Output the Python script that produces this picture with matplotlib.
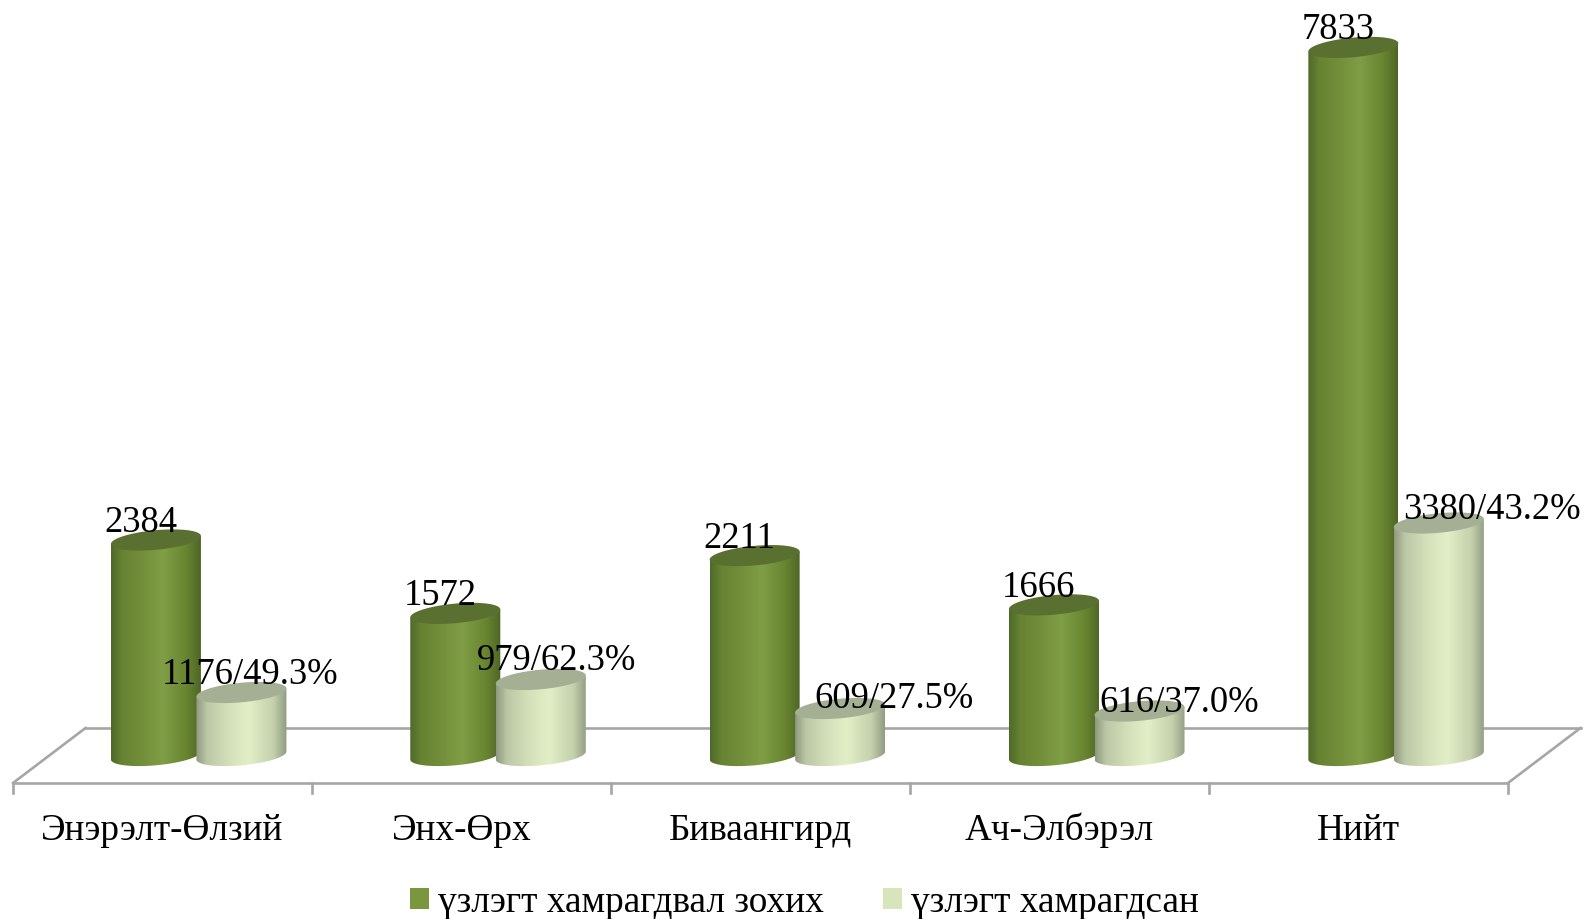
import numpy as np
import matplotlib
matplotlib.use("Agg")
import matplotlib.pyplot as plt
from matplotlib.colors import LinearSegmentedColormap
from matplotlib.patches import Patch, Polygon

plt.rcParams['font.family'] = ['Liberation Serif', 'DejaVu Serif']

categories = ['Энэрэлт-Өлзий', 'Энх-Өрх', 'Биваангирд', 'Ач-Элбэрэл', 'Нийт']
series_names = ['үзлэгт хамрагдвал зохих', 'үзлэгт хамрагдсан']
required = [2384, 1572, 2211, 1666, 7833]
# Heights of the pale bars as drawn in the picture (they do not follow their labels' scale)
covered_drawn = [697, 841, 520, 492, 2572]
covered_labels = ['1176/49.3%', '979/62.3%', '609/27.5%', '616/37.0%', '3380/43.2%']

# Layout
W, H = 1585, 919
PX_PER_CAT = 299.0
PX_PER_VAL = 0.0904
X0_PX, Y0_PX = 162.5, 755.5
FS_DATA = 26.4
FS_TEXT = 26.8
bar_half_px, tilt_px, minor_px = 45.0, 4.0, 9.8
bar_step = 1.0012
dark_off, light_off = -0.022, 0.264
dark_lab_off = (-15, 8)
light_lab_off = [(8.5, 8), (15.5, 9), (53.5, 0), (39.5, -0.5), (53, 3.5)]

dark_cmap = LinearSegmentedColormap.from_list('d', [(0, '#4e6a28'), (0.12, '#668232'), (0.35, '#748f3b'),
                                                    (0.58, '#7f9e45'), (0.85, '#67832f'), (1, '#4d6626')])
light_cmap = LinearSegmentedColormap.from_list('l', [(0, '#8e9980'), (0.12, '#bcc7a5'), (0.35, '#d3dfb9'),
                                                     (0.58, '#e2efc6'), (0.85, '#c5d0ad'), (1, '#919b82')])
DARK, LIGHT = '#7a963f', '#d8e4bc'
DARK_TOP, LIGHT_TOP = '#5a7030', '#a5af93'
GRID = '#a6a6a6'

fig = plt.figure(figsize=(W / 100, H / 100), dpi=100)
ax = fig.add_axes([0, 0, 1, 1])
ax.set_axis_off()
xlim = (-X0_PX / PX_PER_CAT, (W - X0_PX) / PX_PER_CAT)
ylim = ((Y0_PX - H) / PX_PER_VAL, Y0_PX / PX_PER_VAL)

sx = PX_PER_CAT
sy = PX_PER_VAL
n = len(categories)

# Floor
depth_y = 27.5 / sy
depth_x = 72.5 / sx
tick_y = 37.5 / sy
floor_kw = dict(color=GRID, lw=1.9, zorder=1, solid_capstyle='projecting')
ax.plot([-0.5, n - 0.5], [-depth_y, -depth_y], **floor_kw)
ax.plot([-0.5 + depth_x, n - 0.5 + depth_x], [depth_y, depth_y], **floor_kw)
ax.plot([-0.5, -0.5 + depth_x], [-depth_y, depth_y], **floor_kw)
ax.plot([n - 0.5, n - 0.5 + depth_x], [-depth_y, depth_y], **floor_kw)
for k in range(n + 1):
    ax.plot([k - 0.5, k - 0.5], [-depth_y, -tick_y], **floor_kw)


def cylinder(xc, v, cmap, top_col, z):
    a = bar_half_px / sx
    s = tilt_px / sy
    b = minor_px / sy
    t = np.linspace(0, np.pi, 60)
    low_x = xc + a * np.cos(t)
    low_y = s * np.cos(t) - b * np.sin(t)
    verts = np.column_stack([np.r_[low_x, xc - a, xc + a],
                             np.r_[low_y, v - s, v + s]])
    poly = Polygon(verts, closed=True, transform=ax.transData, fc='none', ec='none')
    ax.add_patch(poly)
    im = ax.imshow(np.linspace(0, 1, 256)[None, :], cmap=cmap, aspect='auto',
                   extent=(xc - a, xc + a, -3 * b, v + 3 * b), zorder=z, interpolation='bilinear')
    im.set_clip_path(poly)
    tt = np.linspace(0, 2 * np.pi, 120)
    ax.fill(xc + a * np.cos(tt), v + s * np.cos(tt) + b * np.sin(tt), color=top_col, lw=0, zorder=z + 0.1)


for i in range(n):
    cylinder(i * bar_step + dark_off, required[i], dark_cmap, DARK_TOP, 2 + i)
    cylinder(i * bar_step + light_off, covered_drawn[i], light_cmap, LIGHT_TOP, 2.5 + i)

for i in range(n):
    ax.annotate(str(required[i]), (i * bar_step + dark_off, required[i]), xytext=dark_lab_off,
                textcoords='offset pixels', ha='center', va='baseline', fontsize=FS_DATA, zorder=20)
    ax.annotate(covered_labels[i], (i * bar_step + light_off, covered_drawn[i]), xytext=light_lab_off[i],
                textcoords='offset pixels', ha='center', va='baseline', fontsize=FS_DATA, zorder=20)
    ax.annotate(categories[i], (i, -depth_y), xytext=(0, -57), textcoords='offset pixels',
                ha='center', va='baseline', fontsize=FS_TEXT, zorder=20)

ax.set_xlim(xlim)
ax.set_ylim(ylim)

handles = [Patch(fc=DARK, ec='none'), Patch(fc=LIGHT, ec='none')]
ax.legend(handles, series_names, ncol=2, loc='lower left', bbox_to_anchor=(410 / W, -0.001),
          frameon=False, fontsize=FS_TEXT, borderpad=0, borderaxespad=0, handlelength=0.5, handleheight=0.5,
          handletextpad=0.25, columnspacing=1.6)

fig.savefig('out.png', dpi=100, facecolor='white')
